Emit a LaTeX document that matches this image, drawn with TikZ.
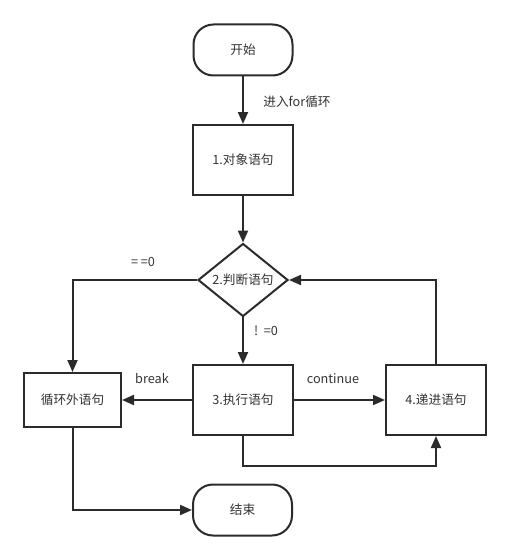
\documentclass[tikz,border=0pt]{standalone}
\usepackage{fontspec}
\setmainfont{Noto Sans CJK SC}
\usetikzlibrary{arrows.meta,shapes.geometric}
\definecolor{linec}{HTML}{2B2B2B}
\definecolor{textc}{HTML}{333333}
\begin{document}
\begin{tikzpicture}[x=0.75pt,y=-0.75pt,
  every node/.style={font=\fontsize{9.5}{11}\selectfont, text=textc},
  base/.style={draw=linec, line width=1.5pt, inner sep=0pt, fill=white},
  term/.style={base, rectangle, rounded corners=15pt, minimum width=74.25pt, minimum height=38.25pt},
  stepbox/.style={base, rectangle, minimum width=75pt, minimum height=52.5pt},
  decide/.style={base, diamond, minimum width=67.5pt, minimum height=52.5pt},
  arr/.style={draw=linec, line width=1.5pt, -{Triangle[length=9pt,width=7.5pt]}},
  lbl/.style={inner sep=0pt}
]
\useasboundingbox (0,0) rectangle (511,560);
\node[term] (start) at (243,50) {开始};
\node[stepbox] (s1) at (243,160) {1.对象语句};
\node[decide] (d) at (243,280) {2.判断语句};
\node[stepbox, minimum width=72.75pt, minimum height=40.5pt] (out) at (72.5,400) {循环外语句};
\node[stepbox] (s3) at (243,400) {3.执行语句};
\node[stepbox] (s4) at (436,400) {4.递进语句};
\node[term] (end) at (242.5,510) {结束};

\draw[arr] (start) -- (s1);
\draw[arr] (s1) -- (d);
\draw[arr] (d.west) -| (out.north);
\draw[arr] (d.south) -- (s3.north);
\draw[arr] (s3.west) -- (out.east);
\draw[arr] (s3.east) -- (s4.west);
\draw[arr] (s3.south) -- ++(0,30) -| (s4.south);
\draw[arr] (s4.north) |- (d.east);
\draw[arr] (out.south) |- (end.west);

\node[lbl] (l1) at (297,102) {进入for循环};
\node[lbl] (l2) at (143,262) {= =0};
\node[lbl] (l3) at (266,331) {!\ \ =0};
\node[lbl] (l4) at (152,379) {break};
\node[lbl] (l5) at (333,379) {continue};
\end{tikzpicture}
\end{document}
